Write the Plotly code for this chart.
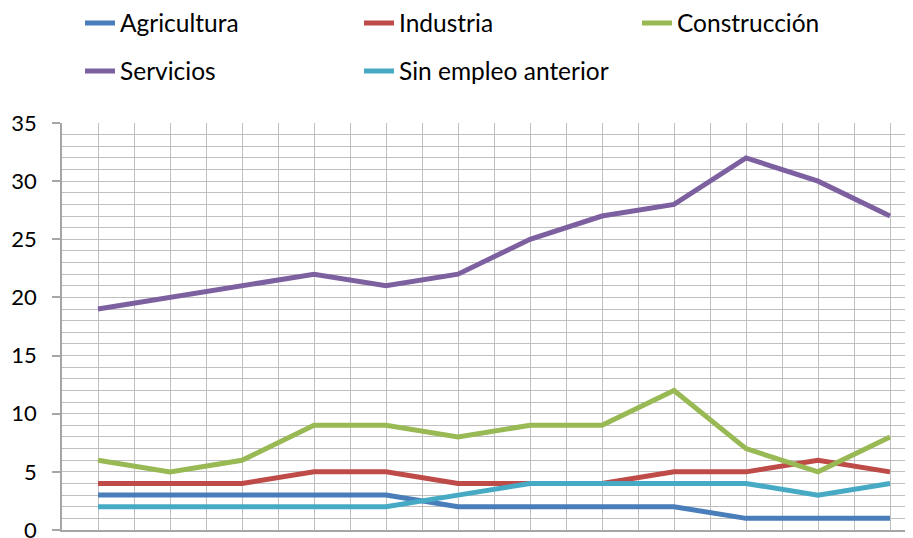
import plotly.graph_objects as go

# x positions of the periods (category labels are cut off in the reference)
periodos = list(range(12))
agricultura = [3, 3, 3, 3, 3, 2, 2, 2, 2, 1, 1, 1]
industria = [4, 4, 4, 5, 5, 4, 4, 4, 5, 5, 6, 5]
construccion = [6, 5, 6, 9, 9, 8, 9, 9, 12, 7, 5, 8]
servicios = [19, 20, 21, 22, 21, 22, 25, 27, 28, 32, 30, 27]
sin_empleo = [2, 2, 2, 2, 2, 3, 4, 4, 4, 4, 3, 4]
y_ticks = [0, 5, 10, 15, 20, 25, 30, 35]

names = ["Agricultura", "Industria", "Construcción", "Servicios", "Sin empleo anterior"]
values = [agricultura, industria, construccion, servicios, sin_empleo]
colors = ["#4A7EBB", "#BE4B48", "#98B954", "#7D60A0", "#46AAC5"]
# legend text anchor positions (page pixels) for each entry
legend_px = [(121, 24), (400, 24), (678, 24), (121, 72), (400, 72)]

GRID = "#BFBFBF"
AXIS = "#A6A6A6"
BODY = 8  # default page margin around the plot div
W, H = 913, 538
ML, MT = 62 - BODY, 123 - BODY
MR = W - (913 - BODY)
MB = H - (530 - BODY)
plot_w = W - ML - MR
plot_h = H - MT - MB
FONT = "Lato, Open Sans, sans-serif"


def px_to_x(px):
    # px is a figure-internal pixel
    return (px - ML) / plot_w


def py_to_y(py):
    return (H - MB - py) / plot_h


fig = go.Figure()
legend_layouts = {}
for i, (name, vals, color) in enumerate(zip(names, values, colors)):
    key = "legend" if i == 0 else f"legend{i + 1}"
    fig.add_trace(go.Scatter(
        x=periodos, y=vals, name=name, mode="lines",
        line=dict(color=color, width=5),
        legend=key, showlegend=True,
    ))
    tx, ty = legend_px[i]
    legend_layouts[key] = dict(
        orientation="h", xanchor="left", yanchor="middle",
        x=px_to_x(tx - 49), y=py_to_y(ty - 9),
        font=dict(family=FONT, size=24.5, color="black"),
        bgcolor="rgba(0,0,0,0)", borderwidth=0,
    )

fig.update_layout(
    width=W, height=H, autosize=False, showlegend=True,
    margin=dict(l=ML, r=MR, t=MT, b=MB, pad=0, autoexpand=False),
    paper_bgcolor="white", plot_bgcolor="white",
    font=dict(family=FONT, color="black"),
    xaxis=dict(
        range=[-0.5, -0.5 + plot_w / 72.0],
        tick0=-0.5, dtick=0.5,
        showgrid=True, gridcolor=GRID, gridwidth=1.4,
        showticklabels=False, ticks="",
        showline=True, linecolor=AXIS, linewidth=1.5,
        zeroline=False,
    ),
    yaxis=dict(
        range=[0, 35], tickvals=y_ticks,
        showgrid=True, gridcolor=GRID, gridwidth=1.4,
        minor=dict(dtick=1, showgrid=True, gridcolor=GRID, gridwidth=1.4),
        ticks="outside", ticklen=8, tickcolor=AXIS, tickwidth=1.5,
        showline=True, linecolor=AXIS, linewidth=1.5,
        zeroline=False,
        tickfont=dict(family=FONT, size=22, color="black"),
        ticklabelstandoff=11,
    ),
    **legend_layouts,
)

fig.write_html("out.html")
